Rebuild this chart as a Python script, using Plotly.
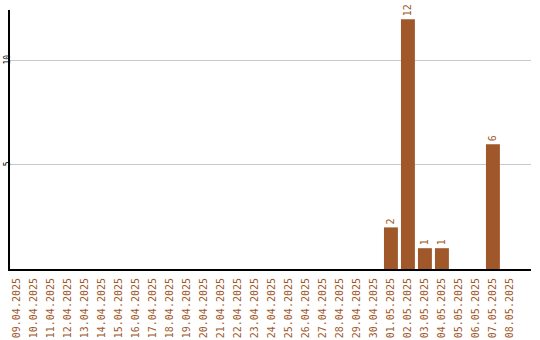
import plotly.graph_objects as go

dates = ["09.04.2025", "10.04.2025", "11.04.2025", "12.04.2025", "13.04.2025",
         "14.04.2025", "15.04.2025", "16.04.2025", "17.04.2025", "18.04.2025",
         "19.04.2025", "20.04.2025", "21.04.2025", "22.04.2025", "23.04.2025",
         "24.04.2025", "25.04.2025", "26.04.2025", "27.04.2025", "28.04.2025",
         "29.04.2025", "30.04.2025", "01.05.2025", "02.05.2025", "03.05.2025",
         "04.05.2025", "05.05.2025", "06.05.2025", "07.05.2025", "08.05.2025"]
counts = [0, 0, 0, 0, 0, 0, 0, 0, 0, 0,
          0, 0, 0, 0, 0, 0, 0, 0, 0, 0,
          0, 0, 2, 12, 1, 1, 0, 0, 6, 0]
y_ticks = [5, 10]

color = "#a0572a"
font = "DejaVu Sans Mono"

fig = go.Figure(go.Bar(
    x=dates, y=counts,
    marker=dict(color=color, line=dict(width=0)),
    width=0.82,
    text=[str(v) if v else "" for v in counts],
    textposition="outside",
    textangle=-90,
    textfont=dict(family=font, size=10, color=color),
    cliponaxis=False,
))

fig.update_layout(
    width=540, height=340,
    margin=dict(l=10, r=9, t=10, b=71),
    paper_bgcolor="white", plot_bgcolor="white",
    showlegend=False,
    xaxis=dict(
        type="category",
        range=[-0.41, 30.24],
        tickangle=-90,
        tickfont=dict(family=font, size=10, color=color),
        showgrid=False,
        showline=True, linecolor="black", linewidth=2,
        ticks="", ticklabelstandoff=3,
        automargin=False,
        fixedrange=True,
    ),
    yaxis=dict(
        range=[0, 12.45],
        tickvals=y_ticks,
        tickangle=-90,
        tickfont=dict(family=font, size=8, color="black"),
        showgrid=True, gridcolor="#c8c8c8", gridwidth=1,
        showline=True, linecolor="black", linewidth=2,
        zeroline=False,
        ticks="", ticklabelstandoff=-5,
        automargin=False,
        fixedrange=True,
    ),
)

fig.write_html("out.html")
